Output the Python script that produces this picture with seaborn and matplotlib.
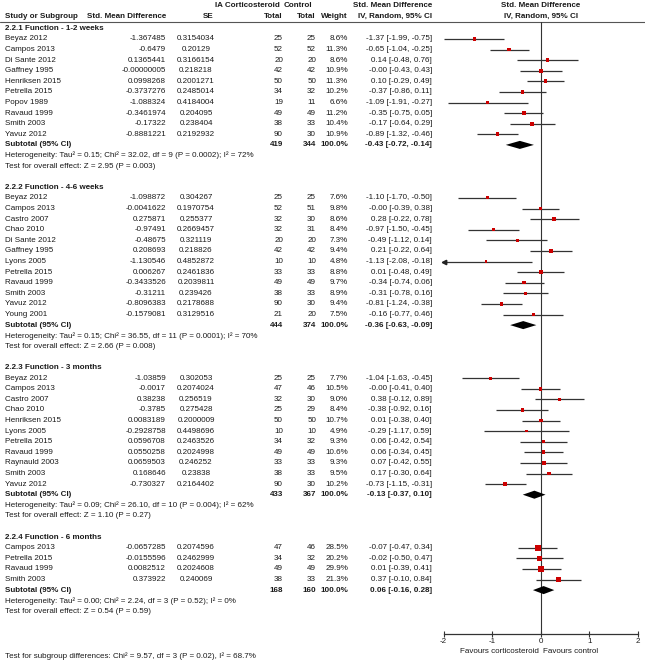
import matplotlib
matplotlib.use("Agg")
import matplotlib.pyplot as plt
import seaborn as sns
import numpy as np
import pandas as pd

# ---------------- data ----------------
g1_title = "2.2.1 Function - 1-2 weeks"
g1_names = ["Beyaz 2012", "Campos 2013", "Di Sante 2012", "Gaffney 1995", "Henriksen 2015",
            "Petrella 2015", "Popov 1989", "Ravaud 1999", "Smith 2003", "Yavuz 2012"]
g1_smd = ["-1.367485", "-0.6479", "0.1365441", "-0.00000005", "0.0998268",
          "-0.3737276", "-1.088324", "-0.3461974", "-0.17322", "-0.8881221"]
g1_se = ["0.3154034", "0.20129", "0.3166154", "0.218218", "0.2001271",
         "0.2485014", "0.4184004", "0.204095", "0.238404", "0.2192932"]
g1_n1 = [25, 52, 20, 42, 50, 34, 19, 49, 38, 90]
g1_n2 = [25, 52, 20, 42, 50, 32, 11, 49, 33, 30]
g1_w = [8.6, 11.3, 8.6, 10.9, 11.3, 10.2, 6.6, 11.2, 10.4, 10.9]
g1_lo = [-1.99, -1.04, -0.48, -0.43, -0.29, -0.86, -1.91, -0.75, -0.64, -1.32]
g1_hi = [-0.75, -0.25, 0.76, 0.43, 0.49, 0.11, -0.27, 0.05, 0.29, -0.46]
g1_sub = [419, 344, -0.43, -0.72, -0.14]
g1_het = "Heterogeneity: Tau² = 0.15; Chi² = 32.02, df = 9 (P = 0.0002); I² = 72%"
g1_test = "Test for overall effect: Z = 2.95 (P = 0.003)"

g2_title = "2.2.2 Function - 4-6 weeks"
g2_names = ["Beyaz 2012", "Campos 2013", "Castro 2007", "Chao 2010", "Di Sante 2012", "Gaffney 1995",
            "Lyons 2005", "Petrella 2015", "Ravaud 1999", "Smith 2003", "Yavuz 2012", "Young 2001"]
g2_smd = ["-1.098872", "-0.0041622", "0.275871", "-0.97491", "-0.48675", "0.208693",
          "-1.130546", "0.006267", "-0.3433526", "-0.31211", "-0.8096383", "-0.1579081"]
g2_se = ["0.304267", "0.1970754", "0.255377", "0.2669457", "0.321119", "0.218826",
         "0.4852872", "0.2461836", "0.2039811", "0.239426", "0.2178688", "0.3129516"]
g2_n1 = [25, 52, 32, 32, 20, 42, 10, 33, 49, 38, 90, 21]
g2_n2 = [25, 51, 30, 31, 20, 42, 10, 33, 49, 33, 30, 20]
g2_w = [7.6, 9.8, 8.6, 8.4, 7.3, 9.4, 4.8, 8.8, 9.7, 8.9, 9.4, 7.5]
g2_lo = [-1.70, -0.39, -0.22, -1.50, -1.12, -0.22, -2.08, -0.48, -0.74, -0.78, -1.24, -0.77]
g2_hi = [-0.50, 0.38, 0.78, -0.45, 0.14, 0.64, -0.18, 0.49, 0.06, 0.16, -0.38, 0.46]
g2_sub = [444, 374, -0.36, -0.63, -0.09]
g2_het = "Heterogeneity: Tau² = 0.15; Chi² = 36.55, df = 11 (P = 0.0001); I² = 70%"
g2_test = "Test for overall effect: Z = 2.66 (P = 0.008)"

g3_title = "2.2.3 Function - 3 months"
g3_names = ["Beyaz 2012", "Campos 2013", "Castro 2007", "Chao 2010", "Henriksen 2015", "Lyons 2005",
            "Petrella 2015", "Ravaud 1999", "Raynauld 2003", "Smith 2003", "Yavuz 2012"]
g3_smd = ["-1.03859", "-0.0017", "0.38238", "-0.3785", "0.0083189", "-0.2928758",
          "0.0596708", "0.0550258", "0.0659503", "0.168646", "-0.730327"]
g3_se = ["0.302053", "0.2074024", "0.256519", "0.275428", "0.2000009", "0.4498696",
         "0.2463526", "0.2024998", "0.246252", "0.23838", "0.2164402"]
g3_n1 = [25, 47, 32, 25, 50, 10, 34, 49, 33, 38, 90]
g3_n2 = [25, 46, 30, 29, 50, 10, 32, 49, 33, 33, 30]
g3_w = [7.7, 10.5, 9.0, 8.4, 10.7, 4.9, 9.3, 10.6, 9.3, 9.5, 10.2]
g3_lo = [-1.63, -0.41, -0.12, -0.92, -0.38, -1.17, -0.42, -0.34, -0.42, -0.30, -1.15]
g3_hi = [-0.45, 0.40, 0.89, 0.16, 0.40, 0.59, 0.54, 0.45, 0.55, 0.64, -0.31]
g3_sub = [433, 367, -0.13, -0.37, 0.10]
g3_het = "Heterogeneity: Tau² = 0.09; Chi² = 26.10, df = 10 (P = 0.004); I² = 62%"
g3_test = "Test for overall effect: Z = 1.10 (P = 0.27)"

g4_title = "2.2.4 Function - 6 months"
g4_names = ["Campos 2013", "Petrella 2015", "Ravaud 1999", "Smith 2003"]
g4_smd = ["-0.0657285", "-0.0155596", "0.0082512", "0.373922"]
g4_se = ["0.2074596", "0.2462999", "0.2024608", "0.240069"]
g4_n1 = [47, 34, 49, 38]
g4_n2 = [46, 32, 49, 33]
g4_w = [28.5, 20.2, 29.9, 21.3]
g4_lo = [-0.47, -0.50, -0.39, -0.10]
g4_hi = [0.34, 0.47, 0.41, 0.84]
g4_sub = [168, 160, 0.06, -0.16, 0.28]
g4_het = "Heterogeneity: Tau² = 0.00; Chi² = 2.24, df = 3 (P = 0.52); I² = 0%"
g4_test = "Test for overall effect: Z = 0.54 (P = 0.59)"

subgroup_test = "Test for subgroup differences: Chi² = 9.57, df = 3 (P = 0.02), I² = 68.7%"
x_ticks = [-2, -1, 0, 1, 2]
x_ticklabels = ["-2", "-1", "0", "1", "2"]
favours_left = "Favours corticosteroid"
favours_right = "Favours control"

groups = [
    (g1_title, g1_names, g1_smd, g1_se, g1_n1, g1_n2, g1_w, g1_lo, g1_hi, g1_sub, g1_het, g1_test),
    (g2_title, g2_names, g2_smd, g2_se, g2_n1, g2_n2, g2_w, g2_lo, g2_hi, g2_sub, g2_het, g2_test),
    (g3_title, g3_names, g3_smd, g3_se, g3_n1, g3_n2, g3_w, g3_lo, g3_hi, g3_sub, g3_het, g3_test),
    (g4_title, g4_names, g4_smd, g4_se, g4_n1, g4_n2, g4_w, g4_lo, g4_hi, g4_sub, g4_het, g4_test),
]

# ---------------- style / layout ----------------
sns.set_theme(style="white")
plt.rcParams['font.family'] = ['Liberation Sans', 'DejaVu Sans']
FS = 5.8
TXT = "#1a1a1a"

W, H = 645, 661
ROW0 = 28.3     # pixel y of first row
PITCH = 10.6    # pixel per row

def px2row(py):
    return (py - ROW0) / PITCH

fig = plt.figure(figsize=(W / 100, H / 100), dpi=100)
fig.patch.set_facecolor("white")

# text axes: x in pixels, y in row units
axt = fig.add_axes([0, 0, 1, 1])
axt.set_xlim(0, W)
axt.set_ylim(px2row(H), px2row(0))
axt.axis("off")

# forest axes
F_LEFT, F_RIGHT = 443.7, 637.7
F_TOP, F_BOT = 21.5, 634.0
axf = fig.add_axes([F_LEFT / W, (H - F_BOT) / H, (F_RIGHT - F_LEFT) / W, (F_BOT - F_TOP) / H])
axf.set_xlim(-2, 2)
axf.set_ylim(px2row(F_BOT), px2row(F_TOP))
axf.patch.set_alpha(0)
for s in ["top", "right", "left"]:
    axf.spines[s].set_visible(False)
axf.spines["bottom"].set_color("#333333")
axf.spines["bottom"].set_linewidth(0.9)
axf.set_yticks([])
axf.set_xticks(x_ticks)
axf.set_xticklabels(x_ticklabels, fontsize=FS, color=TXT)
axf.tick_params(axis="x", direction="inout", length=4, width=0.8, pad=1.0,
                color="#333333", bottom=True)
axf.axvline(0, color="#333333", lw=0.8, zorder=1)

def t(x, y, s, ha="left", bold=False):
    axt.text(x, y, s, ha=ha, va="center", fontsize=FS, color=TXT,
             fontweight="bold" if bold else "normal")

# header
axt.axhline(px2row(21.5), color="#555555", lw=0.8)
t(280, px2row(5.5), "IA Corticosteroid", ha="right", bold=True)
t(312, px2row(5.5), "Control", ha="right", bold=True)
t(432, px2row(5.5), "Std. Mean Difference", ha="right", bold=True)
t(540.7, px2row(5.5), "Std. Mean Difference", ha="center", bold=True)
t(5, px2row(16), "Study or Subgroup", bold=True)
t(166, px2row(16), "Std. Mean Difference", ha="right", bold=True)
t(213, px2row(16), "SE", ha="right", bold=True)
t(283, px2row(16), "Total", ha="right", bold=True)
t(316, px2row(16), "Total", ha="right", bold=True)
t(348, px2row(16), "Weight", ha="right", bold=True)
t(432, px2row(16), "IV, Random, 95% CI", ha="right", bold=True)
t(540.7, px2row(16), "IV, Random, 95% CI", ha="center", bold=True)

row = 0
for (title, names, smd, se, n1, n2, w, lo, hi, sub, het, test) in groups:
    t(5, row, title, bold=True)
    ys = np.arange(row + 1, row + 1 + len(names))
    est = np.array([float(v) for v in smd])
    for i, y in enumerate(ys):
        t(5, y, names[i])
        t(166, y, smd[i], ha="right")
        t(196, y, se[i], ha="center")
        t(283, y, str(n1[i]), ha="right")
        t(316, y, str(n2[i]), ha="right")
        t(348, y, f"{w[i]:.1f}%", ha="right")
        t(432, y, f"{est[i]:.2f} [{lo[i]:.2f}, {hi[i]:.2f}]", ha="right")
    # CI lines
    lo_c = np.clip(lo, -2, 2)
    hi_c = np.clip(hi, -2, 2)
    axf.hlines(ys, lo_c, hi_c, color="#333333", lw=0.9, zorder=2)
    for i, y in enumerate(ys):
        if lo[i] < -2:
            axf.plot([-2], [y], marker="<", ms=3.2, color="#222222", clip_on=False, zorder=3)
    df = pd.DataFrame({"est": est, "y": ys, "w": w})
    sns.scatterplot(data=df, x="est", y="y", size="w", sizes=(0, 19.5), size_norm=(0, 30),
                    marker="s", color="#cc0000", linewidth=0, legend=False, ax=axf, zorder=4)
    # subtotal
    ysub = row + 1 + len(names)
    t(5, ysub, "Subtotal (95% CI)", bold=True)
    t(283, ysub, str(sub[0]), ha="right", bold=True)
    t(316, ysub, str(sub[1]), ha="right", bold=True)
    t(348, ysub, "100.0%", ha="right", bold=True)
    t(432, ysub, f"{sub[2]:.2f} [{sub[3]:.2f}, {sub[4]:.2f}]", ha="right", bold=True)
    hh = 0.38
    axf.fill([sub[3], sub[2], sub[4], sub[2]], [ysub, ysub - hh, ysub, ysub + hh],
             color="black", lw=0, zorder=4)
    t(5, ysub + 1, het)
    t(5, ysub + 2, test)
    row = ysub + 4

axf.set_xlabel("")
axf.set_ylabel("")
t(538.5, px2row(651.5), favours_left, ha="right")
t(543, px2row(651.5), favours_right, ha="left")
t(5, px2row(656), subgroup_test)

fig.savefig("out.png", dpi=100, facecolor="white")
